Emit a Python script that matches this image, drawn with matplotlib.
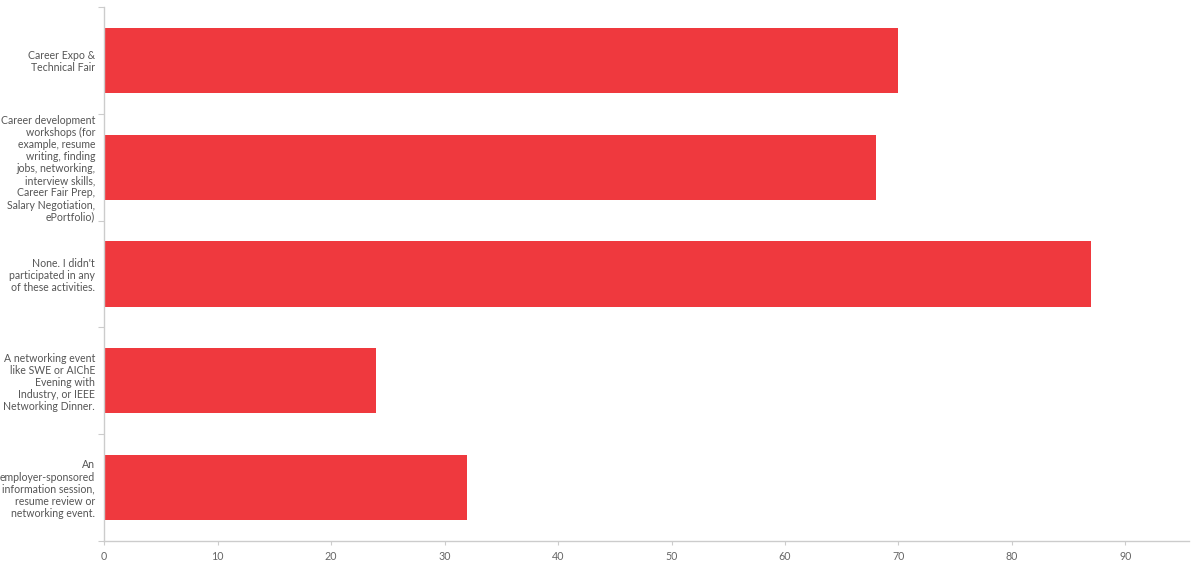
import matplotlib.pyplot as plt

# answers (top to bottom) and counts
categories = [
    "Career Expo &\nTechnical Fair",
    "Career development\nworkshops (for\nexample, resume\nwriting, finding\njobs, networking,\ninterview skills,\nCareer Fair Prep,\nSalary Negotiation,\nePortfolio)",
    "None. I didn't\nparticipated in any\nof these activities.",
    "A networking event\nlike SWE or AIChE\nEvening with\nIndustry, or IEEE\nNetworking Dinner.",
    "An\nemployer-sponsored\ninformation session,\nresume review or\nnetworking event.",
]
counts = [70, 68, 87, 24, 32]
x_ticks = [0, 10, 20, 30, 40, 50, 60, 70, 80, 90]

plt.rcParams['font.family'] = ['Lato', 'DejaVu Sans']

fig = plt.figure(figsize=(11.92, 5.69), dpi=100)
ax = fig.add_axes([0.0873, 0.0492, 0.9102, 0.9385])

pos = list(range(len(categories)))
ax.barh(pos, counts, height=0.61, color='#EF393E')

ax.set_xlim(0, 95.6)
ax.set_ylim(len(categories) - 0.5, -0.5)

# band separators as major ticks, labels on minor ticks at the bar centres
ax.set_yticks([p - 0.5 for p in pos] + [len(categories) - 0.5])
ax.set_yticklabels([])
ax.set_yticks(pos, minor=True)
ax.set_yticklabels(categories, minor=True, fontsize=7.6, color='#555555',
                   linespacing=1.12)
ax.tick_params(axis='y', which='major', length=4.5, color='#cccccc', width=0.8)
ax.tick_params(axis='y', which='minor', length=0, pad=6.5)

ax.set_xticks(x_ticks)
ax.set_xticklabels([str(t) for t in x_ticks], fontsize=7.7, color='#666666')
ax.tick_params(axis='x', length=3, color='#cccccc', width=0.8, pad=4)

for s in ['top', 'right']:
    ax.spines[s].set_visible(False)
for s in ['left', 'bottom']:
    ax.spines[s].set_color('#cccccc')
    ax.spines[s].set_linewidth(1)

fig.savefig('out.png', dpi=100)
